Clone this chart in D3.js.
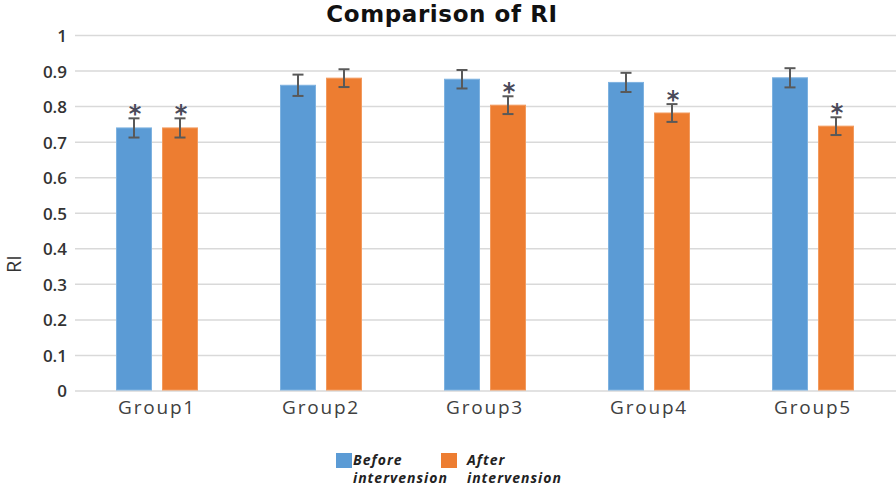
<!DOCTYPE html>
<html><head><meta charset="utf-8">
<script src="https://cdn.jsdelivr.net/npm/d3@7"></script>
<style>body{margin:0;background:#fff;}svg{display:block;}</style>
</head><body>
<svg id="c" width="896" height="489"></svg>
<script>
const groups = ["Group1","Group2","Group3","Group4","Group5"];
const series = ["Before intervension","After intervension"];
const beforeVals = [0.74, 0.86, 0.877, 0.868, 0.881];
const afterVals  = [0.74, 0.88, 0.804, 0.782, 0.745];
const beforeErr  = [0.027, 0.03, 0.026, 0.027, 0.027];
const afterErr   = [0.027, 0.025, 0.025, 0.025, 0.025];
const beforeSig  = [true, false, false, false, false];
const afterSig   = [true, false, true, true, true];
const yTicks = [0,0.1,0.2,0.3,0.4,0.5,0.6,0.7,0.8,0.9,1];
const colors = ["#5B9BD5","#ED7D31"];
const strokes = ["#7EB2E0","#F29A5E"];

const svg = d3.select("#c");
const y = d3.scaleLinear().domain([0,1]).range([391,35.5]);
const x = d3.scaleBand().domain(groups).range([75,895]).paddingInner(0.5).paddingOuter(0.25);
const xs = d3.scaleBand().domain(series).range([0,x.bandwidth()]).paddingInner(10/46);

// gridlines
svg.append("g").selectAll("line").data(yTicks).join("line")
  .attr("x1",75).attr("x2",896).attr("y1",d=>y(d)).attr("y2",d=>y(d))
  .attr("stroke","#d9d9d9").attr("stroke-width",1.5);

// y axis labels
const yAxis = d3.axisLeft(y).tickValues(yTicks).tickSize(0).tickPadding(0).tickFormat(d=>String(d));
const ya = svg.append("g").attr("transform","translate(67,0)").call(yAxis);
ya.select(".domain").remove();
ya.selectAll("text").attr("font-family","'Open Sans', sans-serif").attr("font-size",17)
  .attr("font-weight",600).attr("fill","#333").attr("dy","0.35em");

// x axis labels
const xAxis = d3.axisBottom(x).tickSize(0).tickPadding(0);
const xa = svg.append("g").attr("transform","translate(0,400)").call(xAxis);
xa.select(".domain").remove();
xa.selectAll("text").attr("font-family","'Open Sans', sans-serif").attr("font-size",19)
  .attr("fill","#404040").attr("letter-spacing","1.8px").attr("dy","0.72em");

const rows = groups.map((g,i)=>[
  {g, s:series[0], k:0, v:beforeVals[i], e:beforeErr[i], sig:beforeSig[i]},
  {g, s:series[1], k:1, v:afterVals[i], e:afterErr[i], sig:afterSig[i]}
]).flat();

const bars = svg.append("g");
bars.selectAll("rect").data(rows).join("rect")
  .attr("x",d=>x(d.g)+xs(d.s)+0.5).attr("y",d=>y(d.v))
  .attr("width",xs.bandwidth()-1).attr("height",d=>y(0)-y(d.v)-1)
  .attr("fill",d=>colors[d.k]).attr("stroke",d=>strokes[d.k]).attr("stroke-width",1);

// error bars
const eb = svg.append("g").attr("stroke","#595959").attr("stroke-width",2);
rows.forEach(d=>{
  const cx = x(d.g)+xs(d.s)+xs.bandwidth()/2;
  eb.append("line").attr("x1",cx).attr("x2",cx).attr("y1",y(d.v+d.e)).attr("y2",y(d.v-d.e));
  eb.append("line").attr("x1",cx-5.5).attr("x2",cx+5.5).attr("y1",y(d.v+d.e)).attr("y2",y(d.v+d.e));
  eb.append("line").attr("x1",cx-5.5).attr("x2",cx+5.5).attr("y1",y(d.v-d.e)).attr("y2",y(d.v-d.e));
});

// asterisks
svg.append("g").selectAll("text").data(rows.filter(d=>d.sig)).join("text")
  .attr("x",d=>x(d.g)+xs(d.s)+xs.bandwidth()/2+1)
  .attr("y",d=>y(d.v+d.e)+4)
  .attr("text-anchor","middle").attr("font-family","'DejaVu Sans', sans-serif")
  .attr("font-size",24).attr("font-weight",700).attr("fill","#4a4a5a").text("*");

// title
svg.append("text").attr("x",442).attr("y",22).attr("text-anchor","middle")
  .attr("font-family","'DejaVu Sans', sans-serif").attr("font-size",23).attr("font-weight",700)
  .attr("letter-spacing","0.6px").attr("fill","#111").text("Comparison of RI");

// y title
svg.append("text").attr("transform","translate(21,264) rotate(-90)").attr("text-anchor","middle")
  .attr("font-family","'Open Sans', sans-serif").attr("font-size",20).attr("fill","#333").text("RI");

// legend
const leg = svg.append("g");
const legItems = [
  {x:336, c:colors[0], t1:"Before", t2:"intervension", tx:353},
  {x:441, c:colors[1], t1:"After", t2:"intervension", tx:467}
];
legItems.forEach(it=>{
  leg.append("rect").attr("x",it.x).attr("y",453).attr("width",16).attr("height",15).attr("fill",it.c);
  [it.t1,it.t2].forEach((t,j)=>{
    leg.append("text").attr("x",it.tx).attr("y",465+j*18)
      .attr("font-family","'Open Sans', sans-serif").attr("font-size",14).attr("font-weight",700)
      .attr("font-style","italic").attr("letter-spacing","1px").attr("fill","#222").text(t);
  });
});
</script>
</body></html>
